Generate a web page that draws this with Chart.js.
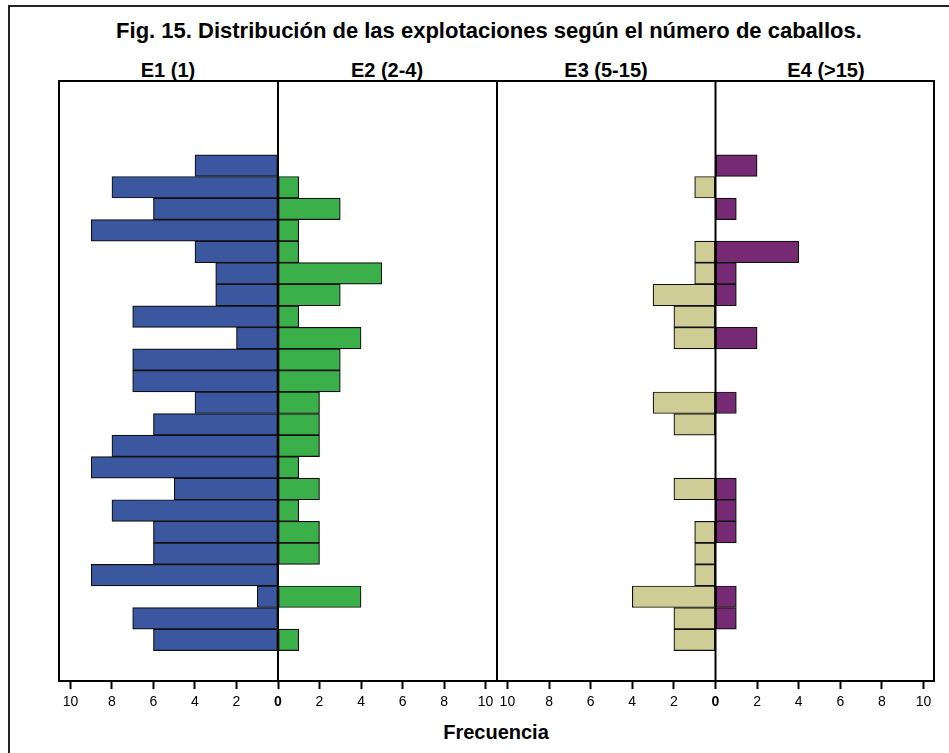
<!DOCTYPE html>
<html>
<head>
<meta charset="utf-8">
<script src="https://cdn.jsdelivr.net/npm/chart.js@4.4.1/dist/chart.umd.min.js"></script>
<style>
  html, body { margin: 0; padding: 0; background: #fff; }
  body { width: 949px; height: 753px; position: relative; overflow: hidden;
         font-family: "Liberation Sans", Arial, sans-serif; }
  #outer { position: absolute; left: 8px; top: 5px; width: 970px; height: 770px;
           border: 2px solid #222; box-sizing: border-box; }
  .t { position: absolute; font-weight: bold; line-height: 1; white-space: nowrap;
       text-align: center; color: #000; }
  canvas { position: absolute; }
</style>
</head>
<body>
<div id="outer"></div>
<div class="t" style="left:89px;top:19.5px;width:800px;font-size:22px;">Fig. 15. Distribución de las explotaciones según el número de caballos.</div>
<div class="t" style="left:68px;top:60px;width:200px;font-size:20px;">E1 (1)</div>
<div class="t" style="left:287px;top:60px;width:200px;font-size:20px;">E2 (2-4)</div>
<div class="t" style="left:506px;top:60px;width:200px;font-size:20px;">E3 (5-15)</div>
<div class="t" style="left:726px;top:60px;width:200px;font-size:20px;">E4 (&gt;15)</div>
<div class="t" style="left:396px;top:721.5px;width:200px;font-size:20px;">Frecuencia</div>

<canvas id="leftPanel" width="458" height="650" style="left:49px;top:71px;"></canvas>
<canvas id="rightPanel" width="457" height="650" style="left:487px;top:71px;"></canvas>

<script>
// Number of farms per row, one value per row from top to bottom
const E1 = [4, 8, 6, 9, 4, 3, 3, 7, 2, 7, 7, 4, 6, 8, 9, 5, 8, 6, 6, 9, 1, 7, 6];
const E2 = [0, 1, 3, 1, 1, 5, 3, 1, 4, 3, 3, 2, 2, 2, 1, 2, 1, 2, 2, 0, 4, 0, 1];
const E3 = [0, 1, 0, 0, 1, 1, 3, 2, 2, 0, 0, 3, 2, 0, 0, 2, 0, 1, 1, 1, 4, 2, 2];
const E4 = [2, 0, 1, 0, 4, 1, 1, 0, 2, 0, 0, 1, 0, 0, 0, 1, 1, 1, 0, 0, 1, 1, 0];

// Frequency ticks shown on both halves of each panel
const tickValues = [-10, -8, -6, -4, -2, 0, 2, 4, 6, 8, 10];

const FONT = '"Liberation Sans", Arial, sans-serif';

// Left-hand series grow towards negative x, right-hand series towards positive x
function toPoints(values, sign) {
  return values
    .map((v, i) => (v ? { x: sign * v, y: i + 1 } : null))
    .filter(Boolean);
}

// Panel frame and the zero line drawn over the bars
const framePlugin = {
  id: 'panelFrame',
  afterDatasetsDraw(chart) {
    const { ctx, chartArea: a, scales } = chart;
    const zx = scales.x.getPixelForValue(0);
    ctx.save();
    ctx.strokeStyle = '#000';
    ctx.lineWidth = 2;
    ctx.strokeRect(a.left, a.top, a.right - a.left, a.bottom - a.top);
    ctx.beginPath();
    ctx.moveTo(zx, a.top);
    ctx.lineTo(zx, a.bottom);
    ctx.stroke();
    ctx.restore();
  }
};

function makePanel(canvasId, leftValues, rightValues, leftColor, rightColor, xLimit) {
  const barStyle = {
    borderColor: '#111',
    borderWidth: 1.2,
    borderSkipped: false,
    barPercentage: 1,
    categoryPercentage: 1,
    stack: 'rows'
  };
  return new Chart(document.getElementById(canvasId), {
    type: 'bar',
    data: {
      datasets: [
        Object.assign({ data: toPoints(leftValues, -1), backgroundColor: leftColor }, barStyle),
        Object.assign({ data: toPoints(rightValues, 1), backgroundColor: rightColor }, barStyle)
      ]
    },
    options: {
      indexAxis: 'y',
      responsive: false,
      animation: false,
      layout: { padding: { left: 10, right: 10, top: 10, bottom: 0 } },
      plugins: { legend: { display: false }, tooltip: { enabled: false } },
      scales: {
        x: {
          type: 'linear',
          stacked: true,
          min: -xLimit,
          max: xLimit,
          offset: false,
          afterBuildTicks: (scale) => { scale.ticks = tickValues.map(v => ({ value: v })); },
          afterFit: (scale) => { scale.height = 40; },
          border: { display: false },
          grid: {
            display: true,
            offset: false,
            drawOnChartArea: false,
            drawTicks: true,
            tickLength: 8,
            tickWidth: 2,
            tickColor: '#000'
          },
          ticks: {
            autoSkip: false,
            maxRotation: 0,
            padding: 5,
            color: '#000',
            callback: (v) => Math.abs(v),
            font: (ctx) => ({
              family: FONT,
              size: 14,
              weight: ctx.tick && ctx.tick.value === 0 ? 'bold' : 'normal'
            })
          }
        },
        y: {
          type: 'linear',
          display: false,
          stacked: true,
          reverse: true,
          offset: false,
          grace: 0,
          min: -2.93,
          max: 24.91,
          grid: { offset: false },
          ticks: { stepSize: 5, includeBounds: false }
        }
      }
    },
    plugins: [framePlugin]
  });
}

makePanel('leftPanel', E1, E2, '#3A57A0', '#3BB04A', 10.55);
makePanel('rightPanel', E3, E4, '#CFCC96', '#762A74', 10.5);
</script>
</body>
</html>
